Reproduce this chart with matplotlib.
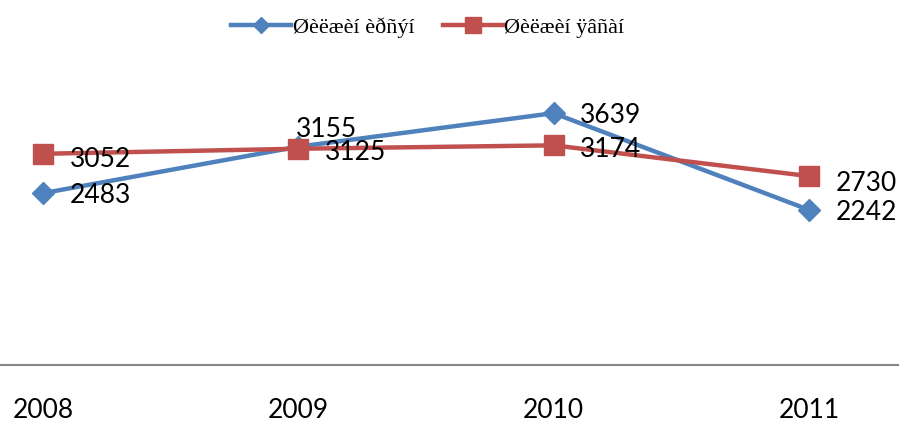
import matplotlib
matplotlib.use("Agg")
import matplotlib.pyplot as plt

years = ["2008", "2009", "2010", "2011"]
series_a = [2483, 3155, 3639, 2242]
series_b = [3052, 3125, 3174, 2730]
name_a = "Øèëæèí èðñýí"
name_b = "Øèëæèí ÿâñàí"

blue = "#4F81BD"
red = "#C0504D"

fig = plt.figure(figsize=(8.99, 4.22), dpi=100)
ax = fig.add_axes([0, 1 - 365 / 422, 1, 365 / 422])

x = range(len(years))
ax.plot(x, series_a, color=blue, lw=3.2, marker="D", ms=11, mfc=blue, mec=blue,
        label=name_a, zorder=3)
ax.plot(x, series_b, color=red, lw=3.2, marker="s", ms=15, mfc=red, mec=red,
        label=name_b, zorder=4)

ax.set_xlim(-43 / 255.3, (899 - 43) / 255.3)
ax.set_ylim(0, 365 * 14.45)

lab = dict(family="Lato", fontsize=19, va="center", ha="left", color="black", zorder=5)
# label offsets in points (right of point, one above for overlapping label)
offs_a = [(19, -2), (-2, 12), (19, -2), (19, -2)]
offs_b = [(19, -4), (19, -3), (19, -3), (19, -5)]
for i in x:
    ax.annotate(str(series_a[i]), (i, series_a[i]), xytext=offs_a[i],
                textcoords="offset points", **lab)
    ax.annotate(str(series_b[i]), (i, series_b[i]), xytext=offs_b[i],
                textcoords="offset points", **lab)

for s in ["top", "left", "right"]:
    ax.spines[s].set_visible(False)
ax.spines["bottom"].set_color("#868686")
ax.spines["bottom"].set_linewidth(1.5)
ax.set_yticks([])
ax.set_xticks(list(x))
ax.set_xticklabels(years, fontfamily="Lato", fontsize=19)
ax.tick_params(axis="x", length=0, pad=24)

leg = ax.legend(loc="center", bbox_to_anchor=(0.476, 0.925), ncol=2,
                frameon=False, prop={"family": "Liberation Serif", "size": 16},
                handlelength=2.7, handletextpad=0.05, columnspacing=1.3,
                borderpad=0)
for h, ms in zip(leg.legend_handles, [8, 12]):
    h.set_markersize(ms)

fig.savefig("out.png", dpi=100)
